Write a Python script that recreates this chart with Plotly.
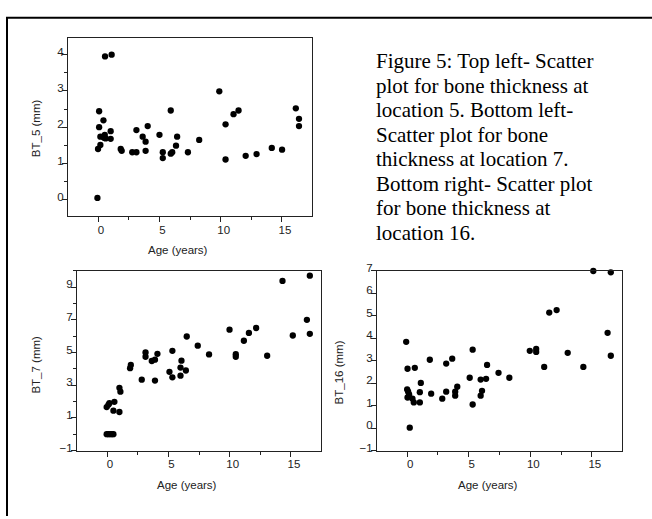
import plotly.graph_objects as go

# ---------------- data ----------------
age_bt5 = [-0.05, 0.0, 0.19, 0.09, 0.09, 0.19, 0.44, 0.57, 1.11, 0.55, 0.49, 0.62, 1.03, 1.03,
           1.85, 1.93, 2.79, 3.13, 3.13, 3.64, 3.88, 3.88, 4.05, 5.01, 5.28, 5.28, 5.93, 5.93,
           6.05, 6.36, 6.45, 7.33, 8.25, 9.89, 10.4, 10.4, 11.05, 11.46, 12.04, 12.93, 14.17,
           15.01, 16.13, 16.39, 16.39]
bt5 = [0.05, 1.40, 1.51, 2.00, 2.44, 1.74, 2.19, 3.95, 4.00, 1.79, 1.71, 1.69, 1.89, 1.68,
       1.40, 1.35, 1.31, 1.31, 1.92, 1.74, 1.60, 1.35, 2.03, 1.79, 1.31, 1.15, 2.46, 1.27,
       1.31, 1.49, 1.74, 1.31, 1.65, 2.99, 2.08, 1.11, 2.36, 2.46, 1.21, 1.26, 1.43,
       1.38, 2.52, 2.23, 2.03]

age_bt7 = [-0.03, 0.10, 0.25, 0.40, 0.52, -0.03, 0.11, 0.19, 0.52, 0.60, 1.01, 1.01, 1.09,
           1.88, 1.94, 2.83, 3.14, 3.14, 3.65, 3.91, 3.91, 4.11, 5.09, 5.33, 5.33, 5.99, 5.99,
           6.07, 6.43, 6.50, 7.40, 8.32, 9.99, 10.5, 10.5, 11.16, 11.57, 12.16, 13.06, 14.31,
           15.15, 16.30, 16.54, 16.54]
bt7 = [0.0, 0.0, 0.0, 0.0, 0.0, 1.66, 1.80, 1.90, 1.44, 1.98, 1.36, 2.84, 2.60,
       4.04, 4.24, 3.34, 5.00, 4.74, 4.48, 4.56, 3.28, 4.92, 3.82, 5.10, 3.48, 3.58, 4.08,
       4.50, 3.90, 5.98, 5.42, 4.88, 6.40, 4.90, 4.74, 5.72, 6.20, 6.50, 4.80, 9.38,
       6.04, 7.00, 9.70, 6.14]

age_bt16 = [-0.08, 0.03, 0.0, 0.08, 0.03, 0.16, 0.21, 0.43, 0.54, 0.62, 1.03, 1.03, 1.11,
            1.84, 1.95, 2.85, 3.17, 3.17, 3.66, 3.90, 3.90, 4.07, 5.08, 5.32, 5.32, 5.97, 5.97,
            6.08, 6.41, 6.49, 7.42, 8.30, 9.96, 10.48, 10.48, 11.13, 11.54, 12.14, 13.04, 14.31,
            15.12, 16.28, 16.54, 16.54]
bt16 = [3.84, 2.64, 1.72, 1.62, 1.36, 1.50, 0.02, 1.31, 1.14, 2.68, 1.60, 1.14, 2.01,
        3.04, 1.53, 1.31, 2.87, 1.62, 3.09, 1.62, 1.44, 1.84, 2.24, 3.49, 1.05, 2.16, 1.44,
        1.66, 2.19, 2.81, 2.46, 2.24, 3.44, 3.52, 3.39, 2.72, 5.14, 5.25, 3.35, 2.72,
        6.99, 4.24, 6.93, 3.22]

caption_lines = ["Figure 5: Top left- Scatter", "plot for bone thickness at",
                 "location 5. Bottom left-", "Scatter plot for bone",
                 "thickness at location 7.", "Bottom right- Scatter plot",
                 "for bone thickness at", "location 16."]

x_title = "Age (years)"
y_titles = ["BT_5 (mm)", "BT_7 (mm)", "BT_16 (mm)"]

# ---------------- layout helpers ----------------
W, H = 652, 519
def px(x):
    return x / W
def py(y):
    return 1 - y / H

SANS = "Liberation Sans, Arial, sans-serif"
SERIF = "Liberation Serif, Times New Roman, serif"

fig = go.Figure()
marker = dict(color="black", size=6.3, line=dict(width=0))
fig.add_trace(go.Scatter(x=age_bt5, y=bt5, mode="markers", marker=marker, xaxis="x", yaxis="y", cliponaxis=False))
fig.add_trace(go.Scatter(x=age_bt7, y=bt7, mode="markers", marker=marker, xaxis="x2", yaxis="y2", cliponaxis=False))
fig.add_trace(go.Scatter(x=age_bt16, y=bt16, mode="markers", marker=marker, xaxis="x3", yaxis="y3", cliponaxis=False))

tickfont = dict(family=SANS, size=11.5, color="#222")

def xaxis(domain, anchor):
    return dict(domain=domain, anchor=anchor, range=[-2.45, 17.45], dtick=5, tick0=0,
                ticks="outside", ticklen=5, tickwidth=1, tickcolor="#222",
                minor=dict(dtick=2.5, tick0=0, ticks="outside", ticklen=3, tickcolor="#222", showgrid=False),
                ticklabelshift=3, ticklabelstandoff=-2,
                showline=True, linecolor="#222", linewidth=1, mirror=True,
                showgrid=False, zeroline=False, tickfont=tickfont)

def yaxis(domain, anchor, rng, dtick, tick0, minor_dtick=None):
    d = dict(domain=domain, anchor=anchor, range=rng, dtick=dtick, tick0=tick0,
             ticks="outside", ticklen=5, tickwidth=1, tickcolor="#222",
             ticklabelshift=-3, ticklabelstandoff=-4,
             showline=True, linecolor="#222", linewidth=1, mirror=True,
             showgrid=False, zeroline=False, tickfont=tickfont)
    if minor_dtick:
        d["minor"] = dict(dtick=minor_dtick, tick0=tick0, ticks="outside", ticklen=3,
                          tickcolor="#222", showgrid=False)
    return d

dx1 = [px(68), px(312)]; dy1 = [py(212), py(30)]
dx2 = [px(77), px(321)]; dy2 = [py(452), py(268)]
dx3 = [px(377), px(622)]; dy3 = [py(452), py(268)]

fig.update_layout(
    width=W, height=H, margin=dict(l=0, r=0, t=0, b=0),
    paper_bgcolor="white", plot_bgcolor="white", showlegend=False,
    xaxis=xaxis(dx1, "y"),
    yaxis=yaxis(dy1, "x", [-0.45, 4.45], 1, 0, 0.5),
    xaxis2=xaxis(dx2, "y2"),
    yaxis2=yaxis(dy2, "x2", [-1, 10], 2, -1, 1),
    xaxis3=xaxis(dx3, "y3"),
    yaxis3=yaxis(dy3, "x3", [-1, 7], 1, 0),
)

ann = []
titlefont = dict(family=SANS, size=11.5, color="#222")
# x-axis titles
for (cx, cy) in [(178, 247), (187, 487), (488, 487)]:
    ann.append(dict(text=x_title, x=px(cx), y=py(cy), xref="paper", yref="paper",
                    showarrow=False, xanchor="center", yanchor="middle", font=titlefont))
# y-axis titles
for t, (cx, cy) in zip(y_titles, [(36, 122), (36, 364), (339, 372)]):
    ann.append(dict(text=t, x=px(cx), y=py(cy), xref="paper", yref="paper", textangle=-90,
                    showarrow=False, xanchor="center", yanchor="middle", font=titlefont))
# caption
for i, line in enumerate(caption_lines):
    base = 60 + 25.1 * i
    ann.append(dict(text=line, x=px(374), y=py(base - 6.5), xref="paper", yref="paper",
                    showarrow=False, xanchor="left", yanchor="middle",
                    font=dict(family=SERIF, size=21, color="black")))
fig.update_layout(annotations=ann)

# clipped page border (left and top)
fig.add_shape(type="line", xref="paper", yref="paper", x0=px(7), x1=px(7), y0=py(9), y1=0,
              line=dict(color="black", width=2))
fig.add_shape(type="line", xref="paper", yref="paper", x0=px(6), x1=1, y0=py(9), y1=py(9),
              line=dict(color="black", width=2))

fig.write_html("out.html")
